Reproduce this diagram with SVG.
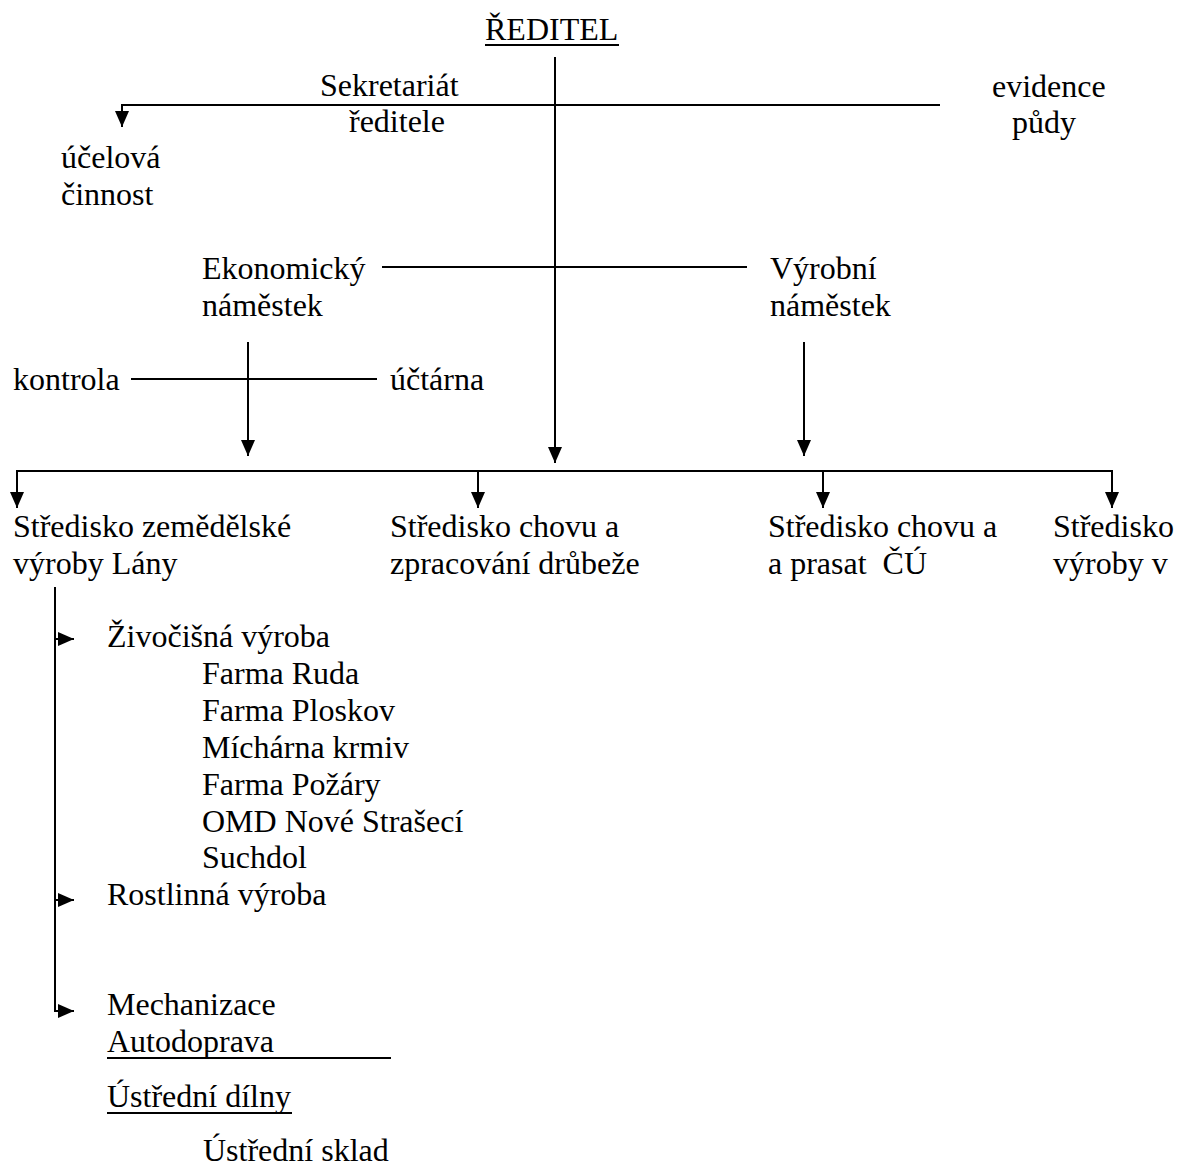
<svg xmlns="http://www.w3.org/2000/svg" width="1178" height="1167" viewBox="0 0 1178 1167">
<style>
text{font-family:"Liberation Serif","Times New Roman",serif;font-size:32px;fill:#000}
.c line,.c path{stroke:#000;stroke-width:2;fill:none}
.u{stroke:#000;stroke-width:2}
</style>
<defs>
<marker id="ah" viewBox="0 0 16 14" markerWidth="16" markerHeight="14" refX="16" refY="7" orient="auto" markerUnits="userSpaceOnUse">
<path d="M0,0 L16,7 L0,14 z" fill="#000"/>
</marker>
</defs>
<rect width="1178" height="1167" fill="#fff"/>
<g class="c" id="connectors">
<line x1="555" y1="57" x2="555" y2="463" marker-end="url(#ah)"/>
<path d="M940,105 H122 V127" marker-end="url(#ah)"/>
<line x1="382" y1="267" x2="747" y2="267"/>
<line x1="248" y1="342" x2="248" y2="456" marker-end="url(#ah)"/>
<line x1="131" y1="379" x2="377" y2="379"/>
<line x1="804" y1="342" x2="804" y2="456" marker-end="url(#ah)"/>
<line x1="17" y1="471" x2="1112" y2="471"/>
<line x1="17" y1="470" x2="17" y2="508" marker-end="url(#ah)"/>
<line x1="478" y1="471" x2="478" y2="508" marker-end="url(#ah)"/>
<line x1="823" y1="471" x2="823" y2="508" marker-end="url(#ah)"/>
<line x1="1112" y1="470" x2="1112" y2="508" marker-end="url(#ah)"/>
<line x1="55" y1="587" x2="55" y2="1012"/>
<line x1="55" y1="639" x2="74" y2="639" marker-end="url(#ah)"/>
<line x1="55" y1="900" x2="74" y2="900" marker-end="url(#ah)"/>
<path d="M55,1011 H74" marker-end="url(#ah)"/>
</g>
<g id="reditel"><text x="485" y="40">ŘEDITEL</text><line class="u" x1="485" y1="45" x2="619" y2="45"/></g>
<g id="sekretariat"><text x="320" y="96">Sekretariát</text><text x="349" y="132">ředitele</text></g>
<g id="evidence"><text x="992" y="97">evidence</text><text x="1012" y="133">půdy</text></g>
<g id="ucelova"><text x="61" y="168">účelová</text><text x="61" y="205">činnost</text></g>
<g id="ekonomicky"><text x="202" y="279">Ekonomický</text><text x="202" y="316">náměstek</text></g>
<g id="vyrobni"><text x="770" y="279">Výrobní</text><text x="770" y="316">náměstek</text></g>
<g id="kontrola"><text x="13" y="390">kontrola</text></g>
<g id="uctarna"><text x="390" y="390">účtárna</text></g>
<g id="strediskoLany"><text x="13" y="537">Středisko zemědělské</text><text x="13" y="574">výroby Lány</text></g>
<g id="strediskoDrubez"><text x="390" y="537">Středisko chovu a</text><text x="390" y="574">zpracování drůbeže</text></g>
<g id="strediskoPrasat"><text x="768" y="537">Středisko chovu a</text><text x="768" y="574" xml:space="preserve">a prasat  ČÚ</text></g>
<g id="strediskoVyroby"><text x="1053" y="537">Středisko</text><text x="1053" y="574">výroby v</text></g>
<g id="zivocisna">
<text x="107" y="647">Živočišná výroba</text>
<text x="202" y="684">Farma Ruda</text>
<text x="202" y="721">Farma Ploskov</text>
<text x="202" y="758">Míchárna krmiv</text>
<text x="202" y="795">Farma Požáry</text>
<text x="202" y="832">OMD Nové Strašecí</text>
<text x="202" y="868">Suchdol</text>
</g>
<g id="rostlinna"><text x="107" y="905">Rostlinná výroba</text></g>
<g id="mechanizace">
<text x="107" y="1015">Mechanizace</text>
<text x="107" y="1052">Autodoprava</text>
<line class="u" x1="107" y1="1058" x2="391" y2="1058"/>
<text x="107" y="1107">Ústřední dílny</text>
<line class="u" x1="107" y1="1113" x2="292" y2="1113"/>
<text x="203" y="1161">Ústřední sklad</text>
</g>
</svg>
